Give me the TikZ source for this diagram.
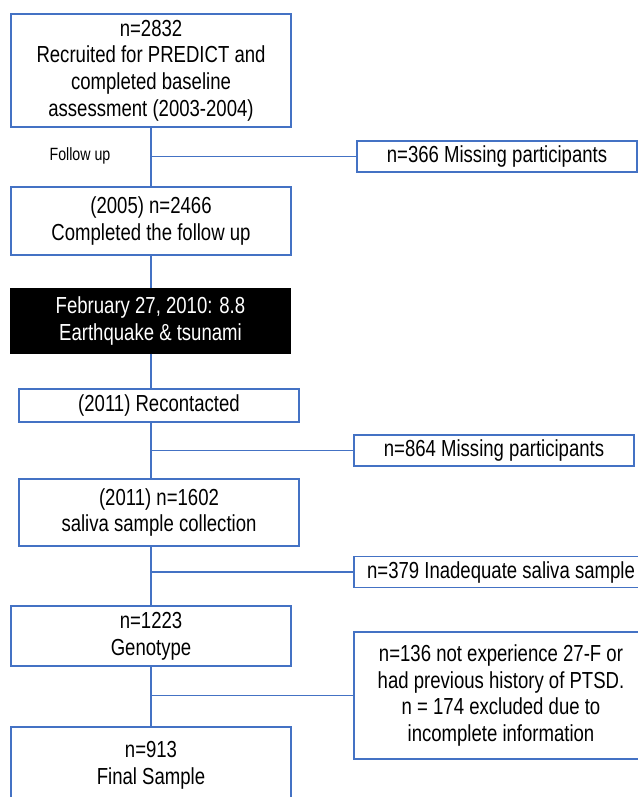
\documentclass[tikz,border=0pt]{standalone}
\usepackage{fontspec}
\setmainfont{Liberation Sans}[FakeStretch=0.8]
\definecolor{flowblue}{HTML}{4472C4}
\tikzset{
  box/.style={draw=flowblue, line width=1.1pt, fill=white, align=center, inner sep=0pt,
    font=\fontsize{17.4pt}{20pt}\selectfont, text=black},
  eventbox/.style={box, draw=black, fill=black, text=white},
  link/.style={draw=flowblue, line width=1.1pt},
}
\begin{document}
\begin{tikzpicture}[x=0.75pt,y=-0.75pt]
\clip (0,0) rectangle (638,797);
\fill[white] (0,0) rectangle (638,797);
% main column
\node[box, minimum width=210pt, minimum height=84.75pt] (b1) at (151,70.5)
  {n=2832\\Recruited for PREDICT and\\completed baseline\\assessment (2003-2004)};
\node[box, minimum width=210pt, minimum height=51pt] (b2) at (151,221)
  {(2005) n=2466\\Completed the follow up};
\node[eventbox, minimum width=209.25pt, minimum height=48pt] (ev) at (150.5,321)
  {February 27, 2010: 8.8\\Earthquake \& tsunami};
\node[box, minimum width=210pt, minimum height=24.75pt] (rec) at (159,405.5)
  {(2011) Recontacted};
\node[box, minimum width=210pt, minimum height=50.25pt] (sal) at (159,512.5)
  {(2011) n=1602\\saliva sample collection};
\node[box, minimum width=210pt, minimum height=45pt] (gen) at (151,636)
  {n=1223\\Genotype};
\node[box, minimum width=210pt, minimum height=57pt] (fin) at (151,765)
  {n=913\\Final Sample};
% side boxes
\node[box, minimum width=210pt, minimum height=23.25pt] (m1) at (497,156.5)
  {n=366 Missing participants};
\node[box, minimum width=210pt, minimum height=23.25pt] (m2) at (494,450.5)
  {n=864 Missing participants};
\node[box, minimum width=220.5pt, minimum height=23.25pt] (m3) at (501,572)
  {n=379 Inadequate saliva sample};
\node[box, minimum width=220.5pt, minimum height=95.25pt] (m4) at (501,695.5)
  {n=136 not experience 27-F or\\had previous history of PTSD.\\n = 174 excluded due to\\incomplete information};
% label
\node[font=\fontsize{13.3pt}{15pt}\selectfont, inner sep=0pt] (fu) at (80,156) {Follow up};
% junctions on the main line
\coordinate (j1) at (b1.south |- m1.west);
\coordinate (j2) at (b1.south |- m2.west);
\coordinate (j3) at (b1.south |- m3.west);
\coordinate (j4) at (b1.south |- m4.west);
% main line
\draw[link] (b1.south) -- (b2.north);
\draw[link] (b2.south) -- (b2.south |- ev.north);
\draw[link] (b2.south |- ev.south) -- (b2.south |- rec.north);
\draw[link] (b2.south |- rec.south) -- (b2.south |- sal.north);
\draw[link] (b2.south |- sal.south) -- (gen.north);
\draw[link] (gen.south) -- (fin.north);
% branches
\draw[link] (j1) -- (m1.west);
\draw[link] (j2) -- (m2.west);
\draw[link] (j3) -- (m3.west);
\draw[link] (j4) -- (m4.west);
\end{tikzpicture}
\end{document}
